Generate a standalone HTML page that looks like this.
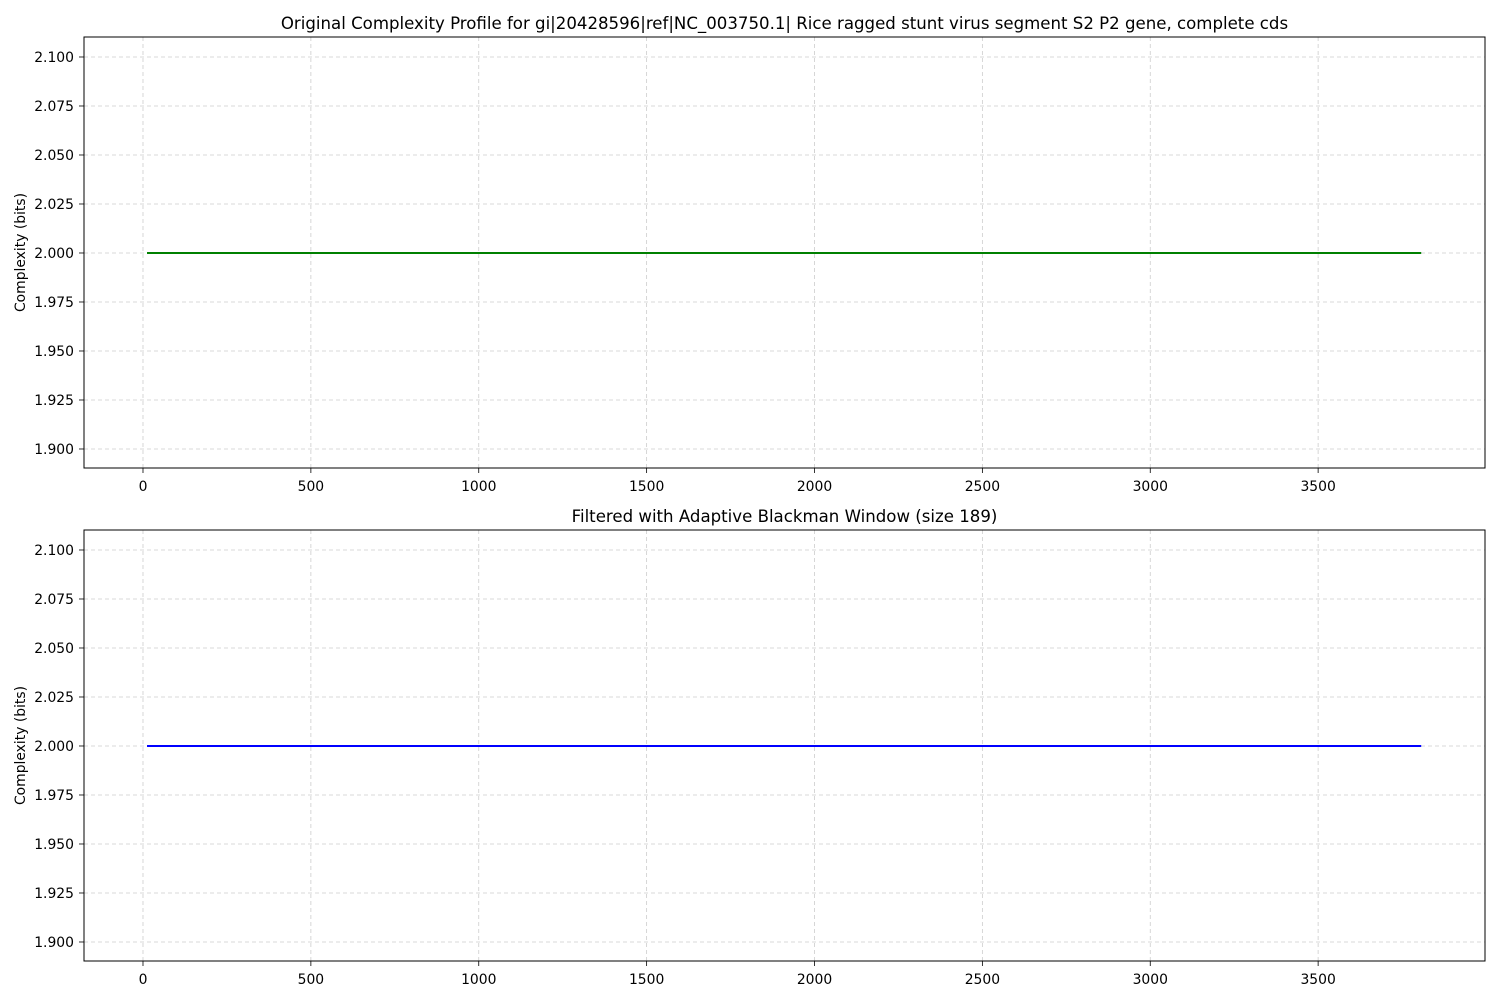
<!DOCTYPE html>
<html><head><meta charset="utf-8">
<style>
html,body{margin:0;padding:0;background:#fff;}
svg{display:block;font-family:"DejaVu Sans","Liberation Sans",sans-serif;}
</style></head>
<body>
<svg id="chart" width="1500" height="1000" viewBox="0 0 1500 1000" xmlns="http://www.w3.org/2000/svg"></svg>
<script>
const xTicks = [0, 500, 1000, 1500, 2000, 2500, 3000, 3500];
const yTicks = [1.900, 1.925, 1.950, 1.975, 2.000, 2.025, 2.050, 2.075, 2.100];
const positions = [12, 500, 1000, 1500, 2000, 2500, 3000, 3500, 3807];
const originalValues = [2, 2, 2, 2, 2, 2, 2, 2, 2];
const filteredValues = [2, 2, 2, 2, 2, 2, 2, 2, 2];
const titles = ["Original Complexity Profile for gi|20428596|ref|NC_003750.1| Rice ragged stunt virus segment S2 P2 gene, complete cds",
  "Filtered with Adaptive Blackman Window (size 189)"];

const NS = "http://www.w3.org/2000/svg";
const svg = document.getElementById('chart');
function mk(tag, attrs, parent){
  const e = document.createElementNS(NS, tag);
  for (const k in attrs) e.setAttribute(k, attrs[k]);
  (parent||svg).appendChild(e);
  return e;
}
const L = 84, R = 1485;
const xMin = -175.7, xMax = 3997;
const yMin = 1.8903, yMax = 2.1102;

function panel(top, bottom, values, color, title, key){
  const g = mk('g', {});
  
  
  const xs = v => L + (v - xMin) / (xMax - xMin) * (R - L);
  const ys = v => bottom - (v - yMin) / (yMax - yMin) * (bottom - top);
  xTicks.forEach(t => {
    const x = xs(t);
    const gl = mk('line', {x1:x, x2:x, y1:top, y2:bottom, stroke:'#cccccc', 'stroke-width':0.8, 'stroke-dasharray':'4,3'}, g);
    
    
    mk('line', {x1:x, x2:x, y1:bottom, y2:bottom+5, stroke:'#000', 'stroke-width':0.8}, g);
    const tx = mk('text', {x:x, y:bottom+23, 'font-size':13.9, 'text-anchor':'middle'}, g);
    tx.textContent = t;
    
    
  });
  yTicks.forEach(t => {
    const y = ys(t);
    const gl = mk('line', {x1:L, x2:R, y1:y, y2:y, stroke:'#cccccc', 'stroke-width':0.8, 'stroke-dasharray':'4,3'}, g);
    
    
    mk('line', {x1:L-5, x2:L, y1:y, y2:y, stroke:'#000', 'stroke-width':0.8}, g);
    const tx = mk('text', {x:L-10, y:y+5, 'font-size':13.9, 'text-anchor':'end'}, g);
    tx.textContent = t.toFixed(3);
    
    
  });
  const pts = positions.map((p,i) => xs(p).toFixed(2) + ',' + ys(values[i]).toFixed(2)).join(' ');
  const line = mk('polyline', {points:pts, fill:'none', stroke:color, 'stroke-width':2}, g);
  
  
  const fr = mk('rect', {x:L, y:top, width:R-L, height:bottom-top, fill:'none', stroke:'#000', 'stroke-width':1}, g);
  
  
  const yl = mk('text', {x:0, y:0, 'font-size':13.9, 'text-anchor':'middle', transform:'translate(25,' + ((top+bottom)/2) + ') rotate(-90)'}, g);
  yl.textContent = 'Complexity (bits)';
  
  
  const tt = mk('text', {x:(L+R)/2, y:top-8, 'font-size':16.6, 'text-anchor':'middle'}, g);
  tt.textContent = title;
  
  
}
panel(37, 468, originalValues, '#008000', titles[0], 'original');
panel(530, 961, filteredValues, '#0000ff', titles[1], 'filtered');
</script>
</body></html>
